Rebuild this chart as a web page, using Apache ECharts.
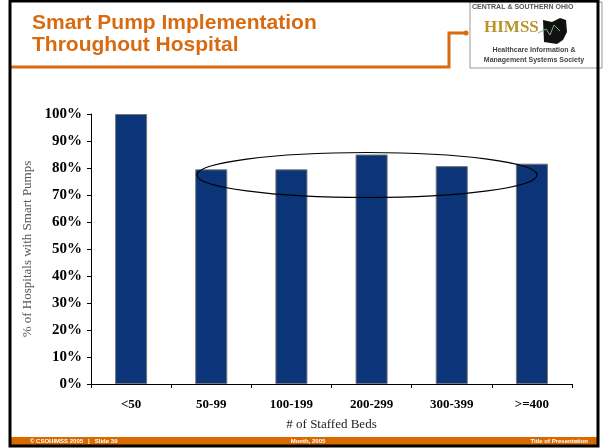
<!DOCTYPE html>
<html lang="en" style="height: 100%">
<head>
  <meta charset="utf-8">
</head>
<body style="height: 100%; margin: 0; background: #fff">
  <div id="container" style="width: 607px; height: 448px"></div>

  <script type="text/javascript" src="https://cdn.jsdelivr.net/npm/echarts@6/dist/echarts.min.js"></script>

  <script type="text/javascript">
    // staffed-bed groups and share of hospitals with smart pumps (%)
    var bedGroups = ['<50', '50-99', '100-199', '200-299', '300-399', '>=400'];
    var pumpShare = [100, 79.5, 79.5, 85, 80.7, 81.6];
    var yTicks = [0, 10, 20, 30, 40, 50, 60, 70, 80, 90, 100];

    var orange = '#D86A10';

    var dom = document.getElementById('container');
    var myChart = echarts.init(dom, null, { renderer: 'canvas' });

    var option = {
      backgroundColor: '#fff',
      animation: false,
      grid: { left: 91, right: 35, top: 114, bottom: 64 },
      xAxis: {
        type: 'category',
        data: bedGroups,
        name: '# of Staffed Beds',
        nameLocation: 'middle',
        nameGap: 34,
        nameTextStyle: { fontFamily: 'Liberation Serif', fontSize: 13, color: '#222' },
        axisLine: { lineStyle: { color: '#000', width: 1 } },
        axisTick: { show: true, alignWithLabel: false, length: 4, lineStyle: { color: '#000' } },
        axisLabel: { fontFamily: 'Liberation Serif', fontWeight: 'bold', fontSize: 13, color: '#000', margin: 14 }
      },
      yAxis: {
        type: 'value',
        min: yTicks[0],
        max: yTicks[yTicks.length - 1],
        interval: 10,
        name: '% of Hospitals with Smart Pumps',
        nameLocation: 'middle',
        nameGap: 52,
        nameTextStyle: { fontFamily: 'Liberation Serif', fontSize: 13, color: '#555' },
        axisLine: { show: true, lineStyle: { color: '#000', width: 1 } },
        axisTick: { show: true, inside: false, length: 4, lineStyle: { color: '#000' } },
        splitLine: { show: false },
        axisLabel: {
          fontFamily: 'Liberation Serif', fontWeight: 'bold', fontSize: 15, color: '#000', margin: 9,
          formatter: function (v) { return v + '%'; }
        }
      },
      series: [{
        type: 'bar',
        data: pumpShare,
        barWidth: '40%',
        itemStyle: { color: '#0B3479', borderColor: '#777', borderWidth: 1 }
      }],
      graphic: [
        // slide frame
        { type: 'rect', shape: { x: 10, y: 1, width: 588, height: 445 }, style: { fill: 'none', stroke: '#000', lineWidth: 3 }, z: 10 },
        // title
        { type: 'text', left: 32, top: 12, style: { text: 'Smart Pump Implementation\nThroughout Hospital', font: 'bold 21px "Liberation Sans", Arial', fill: orange, lineHeight: 22, textShadowColor: 'rgba(0,0,0,0.25)', textShadowOffsetX: 1, textShadowOffsetY: 1 } },
        // orange connector line under title
        { type: 'polyline', shape: { points: [[11, 67], [449, 67], [449, 33], [467, 33]] }, style: { fill: 'none', stroke: orange, lineWidth: 3 } },
        { type: 'circle', shape: { cx: 466, cy: 33, r: 2.5 }, style: { fill: orange } },
        // logo box
        { type: 'rect', shape: { x: 470, y: 2, width: 132, height: 66 }, style: { fill: '#fff', stroke: '#999', lineWidth: 1 } },
        { type: 'text', x: 472, y: 4, style: { text: 'CENTRAL & SOUTHERN OHIO', font: 'bold 7px "Liberation Sans"', fill: '#555' } },
        { type: 'text', x: 484, y: 19, style: { text: 'HIMSS', font: 'bold 17px "Liberation Serif"', fill: '#B8922A' } },
        { type: 'polygon', shape: { points: [[543, 20], [552, 22], [560, 18], [566, 20], [567, 32], [563, 40], [557, 44], [544, 42]] }, style: { fill: '#111' } },
        { type: 'polyline', shape: { points: [[538, 33], [546, 29], [550, 35], [554, 25], [560, 31]] }, style: { fill: 'none', stroke: '#8a8', lineWidth: 1 } },
        { type: 'text', x: 534, y: 47, style: { text: 'Healthcare Information &', font: 'bold 7px "Liberation Sans"', fill: '#444', align: 'center' } },
        { type: 'text', x: 534, y: 57, style: { text: 'Management Systems Society', font: 'bold 7px "Liberation Sans"', fill: '#444', align: 'center' } },
        // ellipse annotation
        { type: 'ellipse', shape: { cx: 367, cy: 175, rx: 170, ry: 22.5 }, style: { fill: 'none', stroke: '#000', lineWidth: 1.2 }, z: 5 },
        // footer bar
        { type: 'rect', shape: { x: 11, y: 437, width: 586, height: 9 }, style: { fill: '#D86A00' }, z: 9 },
        { type: 'text', x: 30, y: 438, style: { text: '© CSOHIMSS 2005   |   Slide 39', font: 'bold 6px "Liberation Sans"', fill: '#fff' }, z: 11 },
        { type: 'text', x: 308, y: 438, style: { text: 'Month, 2005', font: 'bold 6px "Liberation Sans"', fill: '#fff', align: 'center' }, z: 11 },
        { type: 'text', x: 588, y: 438, style: { text: 'Title of Presentation', font: 'bold 6px "Liberation Sans"', fill: '#fff', align: 'right' }, z: 11 }
      ]
    };

    myChart.setOption(option);

    window.addEventListener('resize', function () {
      myChart.resize();
    });
  </script>
</body>
</html>
